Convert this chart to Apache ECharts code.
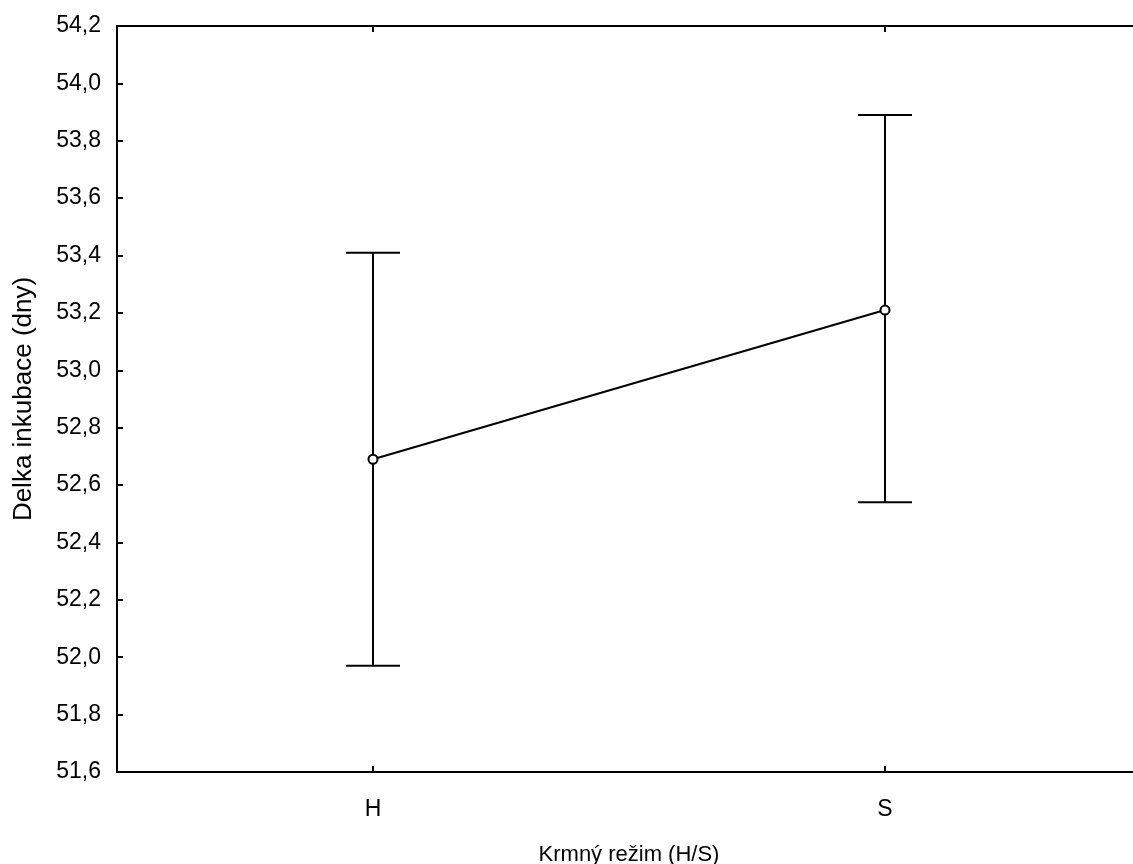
<!DOCTYPE html>
<html>
<head>
<meta charset="utf-8">
<script src="https://cdn.jsdelivr.net/npm/echarts@6/dist/echarts.min.js"></script>
<style>
  html, body { margin: 0; padding: 0; background: #fff; }
  #chart { width: 1133px; height: 864px; }
</style>
</head>
<body>
<div id="chart"></div>
<script>
// data
const categories = ['H', 'S']
const means = [52.69, 53.21]
const upper = [53.41, 53.89]
const lower = [51.97, 52.54]
const yTicks = [51.6, 51.8, 52.0, 52.2, 52.4, 52.6, 52.8, 53.0, 53.2, 53.4, 53.6, 53.8, 54.0, 54.2]

const font = 'Liberation Sans, Arial, sans-serif'
const chart = echarts.init(document.getElementById('chart'))

const errData = categories.map((c, i) => [i, lower[i], upper[i]])

// the right edge of the plot runs past the picture, so the grid is wider than the canvas
chart.setOption({
  animation: false,
  grid: { left: 117, width: 1024, top: 26, bottom: 92, show: false, outerBoundsMode: 'none', containLabel: false },
  xAxis: [
    {
      type: 'category',
      data: categories,
      boundaryGap: true,
      position: 'bottom',
      name: 'Krmný režim (H/S)',
      nameLocation: 'middle',
      nameGap: 72,
      nameTextStyle: { color: '#000', fontSize: 22, fontFamily: font },
      axisLine: { lineStyle: { color: '#000', width: 2 } },
      axisTick: { show: true, inside: true, alignWithLabel: true, length: 6, lineStyle: { color: '#000', width: 2 } },
      axisLabel: { color: '#000', fontSize: 23, fontFamily: font, margin: 26 },
      splitLine: { show: false }
    },
    {
      type: 'category',
      data: categories,
      boundaryGap: true,
      position: 'top',
      axisLine: { lineStyle: { color: '#000', width: 2 } },
      axisTick: { show: true, inside: true, alignWithLabel: true, length: 6, lineStyle: { color: '#000', width: 2 } },
      axisLabel: { show: false },
      splitLine: { show: false }
    }
  ],
  yAxis: {
    type: 'value',
    min: yTicks[0],
    max: yTicks[yTicks.length - 1],
    interval: 0.2,
    name: 'Delka inkubace (dny)',
    nameLocation: 'middle',
    nameGap: 80,
    nameTextStyle: { color: '#000', fontSize: 26, fontFamily: font },
    axisLine: { show: true, lineStyle: { color: '#000', width: 2 } },
    axisTick: { show: true, inside: true, length: 6, lineStyle: { color: '#000', width: 2 } },
    axisLabel: {
      color: '#000', fontSize: 23, fontFamily: font, margin: 16,
      formatter: v => v.toFixed(1).replace('.', ',')
    },
    splitLine: { show: false }
  },
  series: [
    {
      type: 'custom',
      data: errData,
      z: 1,
      renderItem: (params, api) => {
        const x = api.value(0)
        const lo = api.coord([x, api.value(1)])
        const hi = api.coord([x, api.value(2)])
        const half = 27
        const style = { stroke: '#000', lineWidth: 2 }
        return {
          type: 'group',
          children: [
            { type: 'line', shape: { x1: lo[0], y1: lo[1], x2: hi[0], y2: hi[1] }, style },
            { type: 'line', shape: { x1: hi[0] - half, y1: hi[1], x2: hi[0] + half, y2: hi[1] }, style },
            { type: 'line', shape: { x1: lo[0] - half, y1: lo[1], x2: lo[0] + half, y2: lo[1] }, style }
          ]
        }
      }
    },
    {
      type: 'line',
      data: means,
      z: 3,
      symbol: 'circle',
      symbolSize: 9,
      itemStyle: { color: '#fff', borderColor: '#000', borderWidth: 2 },
      lineStyle: { color: '#000', width: 2 }
    }
  ]
})
</script>
</body>
</html>
